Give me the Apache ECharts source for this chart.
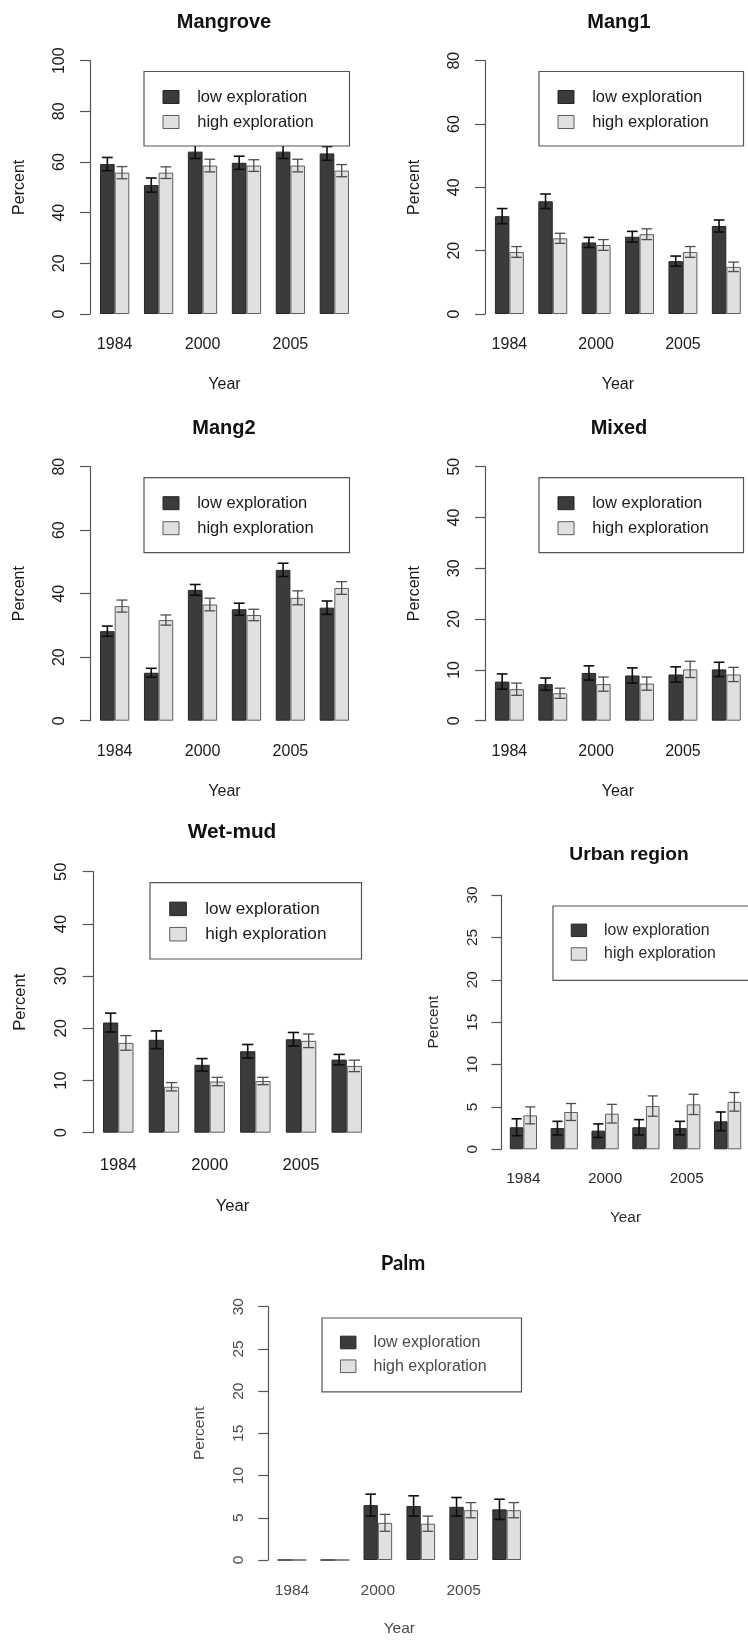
<!DOCTYPE html>
<html>
<head>
<meta charset="utf-8">
<script src="https://cdn.jsdelivr.net/npm/echarts@6/dist/echarts.min.js"></script>
<style>
html,body{margin:0;padding:0;background:#fff;}
#chart{width:748px;height:1641px;}
</style>
</head>
<body>
<div id="chart"></div>
<script>
// ---------- data ----------
const yearLabels = ['1984', '', '2000', '', '2005', ''];
const seriesNames = ['low exploration', 'high exploration'];

const mangroveLow      = [59.2, 50.9, 64.1, 59.7, 64.1, 63.4];
const mangroveLowErr   = [2.6, 2.8, 2.7, 2.6, 2.7, 2.7];
const mangroveHigh     = [55.8, 55.8, 58.6, 58.6, 58.6, 56.6];
const mangroveHighErr  = [2.4, 2.3, 2.5, 2.3, 2.5, 2.4];

const mang1Low         = [30.9, 35.6, 22.6, 24.4, 16.7, 27.8];
const mang1LowErr      = [2.4, 2.3, 1.6, 1.7, 1.6, 1.9];
const mang1High        = [19.6, 23.9, 21.8, 25.2, 19.6, 14.9];
const mang1HighErr     = [1.7, 1.6, 1.7, 1.7, 1.7, 1.5];

const mang2Low         = [28.2, 15.1, 41.2, 35.1, 47.5, 35.6];
const mang2LowErr      = [1.6, 1.4, 1.7, 1.9, 2.1, 2.1];
const mang2High        = [36.1, 31.7, 36.6, 33.3, 38.7, 41.8];
const mang2HighErr     = [1.9, 1.6, 2.0, 1.8, 2.2, 2.0];

const mixedLow         = [7.7, 7.2, 9.4, 8.9, 9.1, 10.1];
const mixedLowErr      = [1.5, 1.2, 1.4, 1.5, 1.5, 1.4];
const mixedHigh        = [6.2, 5.4, 7.2, 7.3, 10.1, 9.1];
const mixedHighErr     = [1.2, 1.0, 1.4, 1.3, 1.6, 1.4];

const wetmudLow        = [21.1, 17.8, 13.0, 15.6, 17.9, 14.0];
const wetmudLowErr     = [1.8, 1.7, 1.2, 1.3, 1.3, 1.0];
const wetmudHigh       = [17.2, 8.8, 9.8, 9.9, 17.6, 12.8];
const wetmudHighErr    = [1.4, 0.8, 0.8, 0.7, 1.3, 1.1];

const urbanLow         = [2.6, 2.5, 2.2, 2.6, 2.5, 3.3];
const urbanLowErr      = [1.0, 0.8, 0.8, 0.9, 0.8, 1.1];
const urbanHigh        = [4.0, 4.4, 4.2, 5.1, 5.3, 5.6];
const urbanHighErr     = [1.0, 1.0, 1.1, 1.2, 1.2, 1.1];

const palmLow          = [0, 0, 6.5, 6.4, 6.3, 6.0];
const palmLowErr       = [0, 0, 1.3, 1.2, 1.1, 1.2];
const palmHigh         = [0, 0, 4.4, 4.3, 5.9, 5.9];
const palmHighErr      = [0, 0, 1.0, 0.9, 0.9, 0.9];

const panelTitles = ['Mangrove', 'Mang1', 'Mang2', 'Mixed', 'Wet-mud', 'Urban region', 'Palm'];
const panelLow    = [mangroveLow, mang1Low, mang2Low, mixedLow, wetmudLow, urbanLow, palmLow];
const panelLowErr = [mangroveLowErr, mang1LowErr, mang2LowErr, mixedLowErr, wetmudLowErr, urbanLowErr, palmLowErr];
const panelHigh   = [mangroveHigh, mang1High, mang2High, mixedHigh, wetmudHigh, urbanHigh, palmHigh];
const panelHighErr= [mangroveHighErr, mang1HighErr, mang2HighErr, mixedHighErr, wetmudHighErr, urbanHighErr, palmHighErr];
const panelYMax   = [100, 80, 80, 50, 50, 30, 30];
const panelYStep  = [20, 20, 20, 10, 10, 5, 5];

// ---------- layout (pixels) ----------
const layout = [
  {gl: 92.7, gw: 263.6, top: 60.7,  y0: 314,    ax: 90,  tx: 224, ty: 22,   lg: [144, 71.5, 205, 72.5], s: 1.00, ink: '#1a1a1a'},
  {gl: 487.7, gw: 263.6, top: 60.7, y0: 314,    ax: 485, tx: 619, ty: 22,   lg: [539, 71.5, 204, 72.5], s: 1.00, ink: '#1a1a1a'},
  {gl: 92.7, gw: 263.6, top: 466.7, y0: 720.7,  ax: 90,  tx: 224, ty: 428,  lg: [144, 477.7, 205, 73], s: 1.00, ink: '#1a1a1a'},
  {gl: 487.7, gw: 263.6, top: 466.7, y0: 720.7, ax: 485, tx: 619, ty: 428,  lg: [539, 477.7, 204, 73], s: 1.00, ink: '#1a1a1a'},
  {gl: 95.4, gw: 274.2, top: 871.7, y0: 1132.7, ax: 93,  tx: 232, ty: 832,  lg: [150, 882.7, 211, 75.6], s: 1.04, ink: '#1a1a1a'},
  {gl: 503,  gw: 252,   top: 895,   y0: 1149.3, ax: 501, tx: 629, ty: 855,  lg: [553, 906, 197, 73], s: 0.96, ink: '#2a2a2a'},
  {gl: 270.5, gw: 257.6, top: 1306.7, y0: 1560, ax: 268, tx: 403, ty: 1263, lg: [322, 1318, 199, 73], s: 0.97, ink: '#4a4a4a'}
];

const FONT = '"Liberation Sans", Arial, Helvetica, sans-serif';
const darkFill = '#3b3b3b', darkBorder = '#262626';
const lightFill = '#e0e0e0', lightBorder = '#5e5e5e';

const chart = echarts.init(document.getElementById('chart'), null, {renderer: 'canvas'});

function errRender(params, api) {
  const i = api.value(0);
  const band = api.size([1, 0])[0];
  const bw = band / 3;
  const children = [];
  const specs = [[1, 2, -1, '#0d0d0d', 1.6], [3, 4, 1, '#4d4d4d', 1.3]];
  specs.forEach(function (sp) {
    const v = api.value(sp[0]);
    const e = api.value(sp[1]);
    if (!e) return;
    const cx = api.coord([i, v])[0] + sp[2] * bw / 2;
    const yT = api.coord([i, v + e])[1];
    const yB = api.coord([i, v - e])[1];
    const c = bw * 0.37;
    const st = {stroke: sp[3], lineWidth: sp[4]};
    children.push({type: 'line', shape: {x1: cx, y1: yT, x2: cx, y2: yB}, style: st});
    children.push({type: 'line', shape: {x1: cx - c, y1: yT, x2: cx + c, y2: yT}, style: st});
    children.push({type: 'line', shape: {x1: cx - c, y1: yB, x2: cx + c, y2: yB}, style: st});
  });
  return {type: 'group', children: children};
}

const grid = [], xAxis = [], yAxis = [], series = [], title = [], legend = [];

layout.forEach(function (L, k) {
  const s = L.s;
  const fs = 16 * s;
  grid.push({left: L.gl, top: L.top, width: L.gw, height: L.y0 - L.top, containLabel: false});
  xAxis.push({
    type: 'category', gridIndex: k, data: yearLabels, boundaryGap: true,
    axisLine: {show: false}, axisTick: {show: false},
    axisLabel: {interval: 0, margin: 23 * s, fontSize: fs, color: L.ink, fontFamily: FONT},
    name: 'Year', nameLocation: 'middle', nameGap: 63 * s,
    nameTextStyle: {fontSize: fs, color: L.ink, fontFamily: FONT}
  });
  yAxis.push({
    type: 'value', gridIndex: k, min: 0, max: panelYMax[k], interval: panelYStep[k],
    offset: L.gl - L.ax,
    axisLine: {show: true, lineStyle: {color: '#555', width: 1.2}},
    axisTick: {show: true, length: 10 * s, lineStyle: {color: '#555', width: 1.2}},
    splitLine: {show: false},
    axisLabel: {rotate: 90, margin: 22 * s, fontSize: fs, color: L.ink, fontFamily: FONT},
    name: 'Percent', nameLocation: 'middle', nameGap: 62 * s,
    nameTextStyle: {fontSize: fs, color: L.ink, fontFamily: FONT}
  });
  const isPalm = panelTitles[k] === 'Palm';
  title.push({
    text: panelTitles[k], left: L.tx, top: L.ty - 10 * s, textAlign: 'center', padding: 0,
    textStyle: {fontSize: (isPalm ? 21 : 20) * s, fontWeight: 'bold', color: '#111',
      fontFamily: isPalm ? 'Lato, "Open Sans", sans-serif' : FONT}
  });
  series.push({
    type: 'bar', name: seriesNames[0], xAxisIndex: k, yAxisIndex: k, data: panelLow[k],
    barGap: '0%', barCategoryGap: '33.33%', z: 2,
    itemStyle: {color: darkFill, borderColor: darkBorder, borderWidth: 1}
  });
  series.push({
    type: 'bar', name: seriesNames[1], xAxisIndex: k, yAxisIndex: k, data: panelHigh[k],
    barGap: '0%', barCategoryGap: '33.33%', z: 2,
    itemStyle: {color: lightFill, borderColor: lightBorder, borderWidth: 1}
  });
  const errData = panelLow[k].map(function (v, i) {
    return [i, v, panelLowErr[k][i], panelHigh[k][i], panelHighErr[k][i]];
  });
  series.push({
    type: 'custom', xAxisIndex: k, yAxisIndex: k, data: errData, z: 3,
    encode: {x: 0, y: [1, 3]}, renderItem: errRender, silent: true
  });
  // legend box
  const bx = L.lg[0], by = L.lg[1], bwid = L.lg[2], bh = L.lg[3];
  const rowH = 16 * s, gap = 8 * s;
  const padTop = 25 * s - rowH / 2;
  const padBottom = bh - padTop - (2 * rowH + gap);
  const padLeft = 18.5 * s;
  const iw = 16 * s, ih = 13 * s;
  const textPad = 52.7 * s - padLeft - iw - 5;
  const textW = 125 * s;
  const padRight = bwid - padLeft - iw - 5 - textPad - textW;
  legend.push({
    left: bx, top: by, orient: 'vertical', selectedMode: false,
    padding: [padTop, padRight, padBottom, padLeft],
    itemGap: gap, itemWidth: iw, itemHeight: ih,
    backgroundColor: '#fff', borderColor: '#555', borderWidth: 1.2, borderRadius: 0,
    textStyle: {fontSize: 16.5 * s, lineHeight: rowH, color: L.ink, fontFamily: FONT,
      width: textW, padding: [0, 0, 0, textPad]},
    data: [
      {name: seriesNames[0], icon: 'rect', itemStyle: {color: darkFill, borderColor: darkBorder, borderWidth: 1}},
      {name: seriesNames[1], icon: 'rect', itemStyle: {color: lightFill, borderColor: lightBorder, borderWidth: 1}}
    ],
    z: 10
  });
});

chart.setOption({
  animation: false,
  backgroundColor: '#fff',
  title: title, grid: grid, xAxis: xAxis, yAxis: yAxis, legend: legend, series: series
});
</script>
</body>
</html>
